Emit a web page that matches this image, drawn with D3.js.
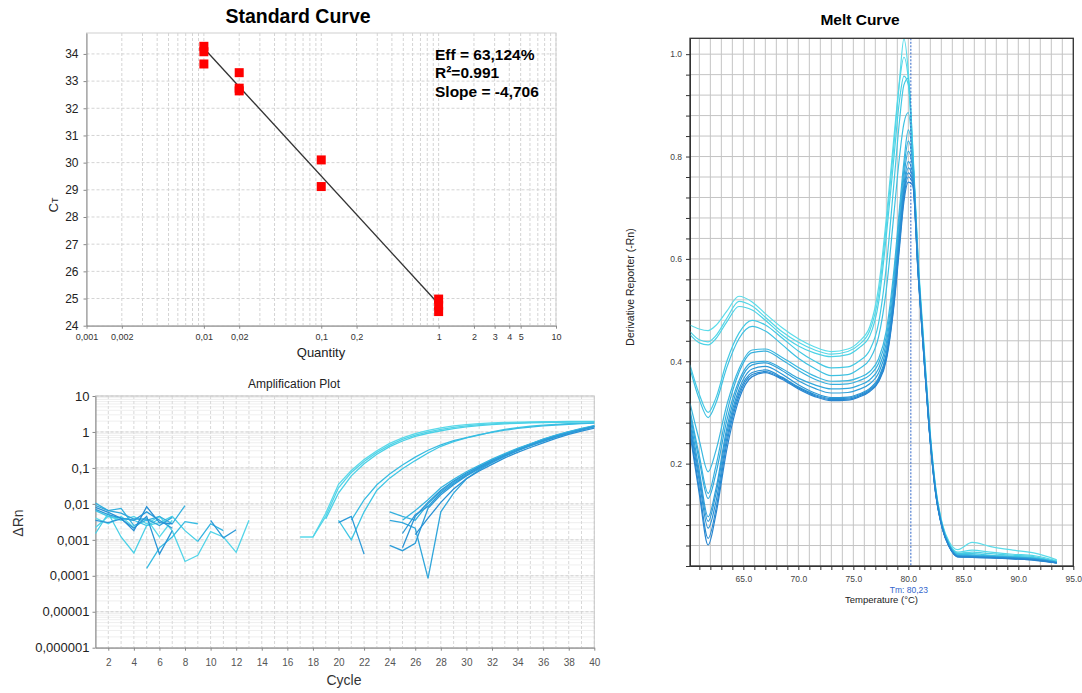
<!DOCTYPE html>
<html>
<head>
<meta charset="utf-8">
<script src="https://cdn.jsdelivr.net/npm/d3@7/dist/d3.min.js"></script>
<style>
  body { margin: 0; background: #fff; }
  svg { display: block; font-family: Arial, "Liberation Sans", sans-serif; }
</style>
</head>
<body>
<svg id="chart" width="1082" height="693"></svg>
<script>
var _ = null;

// ---------- Standard curve ----------
var stdQty = [0.01, 0.01, 0.01, 0.02, 0.02, 0.02, 0.1, 0.1, 1, 1, 1];
var stdCt = [34.28, 34.08, 33.63, 33.31, 32.74, 32.64, 30.10, 29.12, 24.98, 24.75, 24.52];
var fitQty = [0.01, 1];
var fitCt = [34.21, 24.80];
var stdXTicks = [0.001, 0.002, 0.01, 0.02, 0.1, 0.2, 1, 2, 3, 4, 5, 10];
var stdXLabels = ["0,001", "0,002", "0,01", "0,02", "0,1", "0,2", "1", "2", "3", "4", "5", "10"];
var stdYTicks = [24, 25, 26, 27, 28, 29, 30, 31, 32, 33, 34];
var stdStats = ["Eff = 63,124%", "R²=0.991", "Slope = -4,706"];

// ---------- Amplification plot ----------
var cycles = [1, 2, 3, 4, 5, 6, 7, 8, 9, 10, 11, 12, 13, 14, 15, 16, 17, 18, 19, 20,
              21, 22, 23, 24, 25, 26, 27, 28, 29, 30, 31, 32, 33, 34, 35, 36, 37, 38, 39, 40];
var ampXTicks = [2, 4, 6, 8, 10, 12, 14, 16, 18, 20, 22, 24, 26, 28, 30, 32, 34, 36, 38, 40];
var ampYTicks = [10, 1, 0.1, 0.01, 0.001, 0.0001, 0.00001, 0.000001];
var ampYLabels = ["10", "1", "0,1", "0,01", "0,001", "0,0001", "0,00001", "0,000001"];

var ampA1 = [0.004, 0.0028, 0.0045, 0.0022, 0.0038, 0.0012, 0.0035, _, _, _,
             _, _, _, _, _, _, 0.0012, 0.0012, 0.0055, 0.035,
             0.085, 0.17, 0.30, 0.48, 0.68, 0.90, 1.10, 1.30, 1.48, 1.60,
             1.70, 1.78, 1.84, 1.88, 1.91, 1.93, 1.95, 1.96, 1.97, 1.98];
var ampA2 = [0.0022, 0.0045, 0.0035, 0.0045, 0.0028, 0.0045, 0.0018, 0.00025, 0.00037, 0.0017,
             0.0012, 0.00045, 0.0035, _, _, _, _, 0.0012, 0.0045, 0.028,
             0.075, 0.15, 0.27, 0.43, 0.62, 0.82, 1.00, 1.18, 1.35, 1.48,
             1.60, 1.68, 1.75, 1.80, 1.84, 1.87, 1.90, 1.92, 1.94, 1.95];
var ampA3 = [0.0015, 0.0055, 0.0012, 0.00043, 0.0025, 0.003, 0.0045, 0.0018, 0.0009, _,
             _, _, _, _, _, _, _, _, 0.0038, 0.02,
             0.06, 0.13, 0.24, 0.39, 0.56, 0.75, 0.92, 1.08, 1.24, 1.38,
             1.50, 1.60, 1.68, 1.74, 1.79, 1.83, 1.86, 1.89, 1.91, 1.93];
var ampB1 = [0.0065, 0.0045, 0.004, 0.0035, 0.0025, 0.0038, _, _, _, _,
             _, _, _, _, _, _, _, _, _, 0.0035,
             0.001, 0.006, 0.024, 0.052, 0.095, 0.16, 0.26, 0.40, 0.54, 0.68,
             0.82, 1.00, 1.18, 1.32, 1.44, 1.54, 1.62, 1.69, 1.75, 1.80];
var ampB2 = [_, _, _, _, 0.00016, 0.0006, 0.0012, 0.0032, 0.0028, _,
             _, _, _, _, _, _, _, _, _, _,
             0.0035, 0.013, 0.034, 0.068, 0.12, 0.20, 0.31, 0.44, 0.57, 0.70,
             0.84, 0.98, 1.12, 1.25, 1.37, 1.47, 1.56, 1.64, 1.70, 1.76];
var ampC1 = [0.0105, 0.0065, 0.0075, 0.0025, 0.0035, 0.0045, 0.0028, 0.009, _, _,
             _, _, _, _, _, _, _, _, _, _,
             _, _, _, 0.006, 0.0045, 0.0035, 0.01, 0.022, 0.04, 0.068,
             0.105, 0.16, 0.235, 0.33, 0.45, 0.60, 0.78, 0.98, 1.20, 1.45];
var ampC2 = [0.009, 0.0065, 0.0055, 0.0038, 0.0038, 0.0025, 0.0042, _, _, _,
             _, _, _, _, _, _, _, _, _, _,
             _, _, _, 0.0035, 0.003, 0.0021, 0.000085, 0.006, 0.02, 0.05,
             0.088, 0.14, 0.21, 0.30, 0.41, 0.55, 0.72, 0.92, 1.14, 1.38];
var ampC3 = [0.007, 0.005, 0.004, 0.0035, 0.006, 0.0035, 0.0021, _, _, _,
             _, _, _, _, _, _, _, _, _, _,
             _, _, _, 0.0007, 0.0005, 0.0008, 0.0075, 0.018, 0.034, 0.06,
             0.095, 0.145, 0.215, 0.305, 0.42, 0.56, 0.73, 0.93, 1.15, 1.40];
var ampC4 = [0.0035, 0.003, 0.0038, 0.0021, 0.0045, 0.0004, 0.0018, _, _, _,
             _, _, _, _, _, _, _, _, _, _,
             _, _, _, _, 0.0006, 0.0045, 0.011, 0.024, 0.043, 0.072,
             0.11, 0.165, 0.24, 0.34, 0.46, 0.62, 0.80, 1.00, 1.22, 1.48];
var ampC5 = [0.008, 0.0058, 0.004, 0.0018, 0.0083, 0.003, 0.0028, _, _, _,
             _, _, _, _, _, _, _, _, _, _,
             _, _, _, _, _, 0.0014, 0.004, 0.011, 0.026, 0.05,
             0.082, 0.125, 0.19, 0.27, 0.37, 0.50, 0.66, 0.85, 1.05, 1.28];
var ampC6 = [_, _, _, _, _, _, _, _, 0.0009, 0.0028,
             0.0018, _, _, _, _, _, _, _, _, _,
             _, _, _, _, 0.0035, 0.0065, 0.013, 0.028, 0.048, 0.078,
             0.118, 0.175, 0.25, 0.35, 0.47, 0.63, 0.82, 1.02, 1.25, 1.50];
var ampC7 = [_, _, _, _, _, _, _, _, _, 0.0035,
             0.00114, 0.0019, _, _, _, _, _, _, _, 0.003,
             0.0045, 0.0004, _, _, 0.0015, 0.005, 0.0085, 0.02, 0.037, 0.063,
             0.10, 0.15, 0.22, 0.31, 0.43, 0.58, 0.75, 0.95, 1.17, 1.42];
var ampSeries = [ampA1, ampA2, ampA3, ampB1, ampB2, ampC1, ampC2, ampC3, ampC4, ampC5, ampC6, ampC7];
var ampColors = ["#5ad9ea", "#52d4e8", "#4ad0e6", "#3fc6e4", "#38bce2", "#34b0de",
                 "#30a6db", "#2c9cd8", "#2a94d5", "#2890d4", "#35b4e0", "#2c9ad8"];

// ---------- Melt curve ----------
var meltTemps = [60.15, 61, 61.8, 62.5, 63.5, 64.6, 65.8, 67, 68.5, 70, 71.5, 73, 74.5, 75.5, 76.5, 77.3, 78,
                 78.7, 79.2, 79.6, 80, 80.4, 80.9, 81.4, 81.9, 82.5, 83.1, 83.7, 84.5, 85.8, 87.5, 89.5, 91.5, 93.5];
var meltT1 = [0.471, 0.463, 0.460, 0.470, 0.498, 0.527, 0.516, 0.493, 0.466, 0.444, 0.428, 0.419, 0.424, 0.438, 0.468, 0.545, 0.680,
              0.840, 0.950, 1.030, 0.965, 0.820, 0.600, 0.440, 0.285, 0.152, 0.082, 0.048, 0.032, 0.046, 0.038, 0.031, 0.025, 0.012];
var meltT2 = [0.458, 0.442, 0.438, 0.450, 0.484, 0.517, 0.508, 0.486, 0.458, 0.437, 0.422, 0.414, 0.419, 0.432, 0.460, 0.530, 0.665,
              0.825, 0.945, 0.994, 0.950, 0.805, 0.592, 0.432, 0.280, 0.150, 0.080, 0.045, 0.027, 0.031, 0.027, 0.023, 0.020, 0.010];
var meltT3 = [0.452, 0.436, 0.432, 0.444, 0.477, 0.507, 0.500, 0.480, 0.452, 0.430, 0.416, 0.409, 0.413, 0.426, 0.450, 0.515, 0.645,
              0.800, 0.910, 0.957, 0.940, 0.800, 0.588, 0.430, 0.278, 0.148, 0.078, 0.043, 0.025, 0.027, 0.024, 0.021, 0.018, 0.009];
var meltM1 = [0.393, 0.335, 0.300, 0.328, 0.400, 0.455, 0.480, 0.471, 0.446, 0.420, 0.400, 0.387, 0.389, 0.400, 0.422, 0.475, 0.585,
              0.750, 0.870, 0.940, 0.953, 0.815, 0.590, 0.428, 0.276, 0.147, 0.078, 0.043, 0.024, 0.024, 0.021, 0.019, 0.016, 0.008];
var meltM2 = [0.386, 0.325, 0.290, 0.318, 0.388, 0.444, 0.468, 0.459, 0.433, 0.406, 0.386, 0.372, 0.374, 0.385, 0.404, 0.448, 0.540,
              0.690, 0.800, 0.865, 0.886, 0.800, 0.585, 0.425, 0.274, 0.146, 0.077, 0.042, 0.023, 0.022, 0.020, 0.018, 0.015, 0.008];
var meltL1 = [0.318, 0.245, 0.184, 0.225, 0.315, 0.385, 0.422, 0.424, 0.408, 0.388, 0.371, 0.361, 0.362, 0.368, 0.380, 0.405, 0.460,
              0.580, 0.700, 0.790, 0.852, 0.795, 0.583, 0.424, 0.273, 0.145, 0.076, 0.042, 0.022, 0.021, 0.019, 0.017, 0.015, 0.007];
var meltL2 = [0.305, 0.215, 0.142, 0.195, 0.300, 0.378, 0.417, 0.420, 0.403, 0.382, 0.365, 0.355, 0.356, 0.362, 0.373, 0.396, 0.448,
              0.565, 0.685, 0.775, 0.830, 0.785, 0.580, 0.422, 0.272, 0.144, 0.075, 0.041, 0.021, 0.020, 0.019, 0.017, 0.014, 0.007];
var meltL3 = [0.298, 0.205, 0.132, 0.180, 0.285, 0.362, 0.398, 0.400, 0.386, 0.367, 0.354, 0.346, 0.347, 0.353, 0.364, 0.386, 0.436,
              0.550, 0.668, 0.760, 0.810, 0.775, 0.578, 0.420, 0.271, 0.143, 0.075, 0.040, 0.020, 0.019, 0.018, 0.016, 0.014, 0.007];
var meltL4 = [0.290, 0.185, 0.096, 0.150, 0.270, 0.355, 0.393, 0.397, 0.382, 0.362, 0.347, 0.338, 0.339, 0.345, 0.356, 0.377, 0.425,
              0.538, 0.655, 0.745, 0.790, 0.765, 0.575, 0.418, 0.270, 0.142, 0.074, 0.040, 0.020, 0.019, 0.018, 0.016, 0.013, 0.006];
var meltL5 = [0.280, 0.175, 0.087, 0.140, 0.260, 0.345, 0.385, 0.390, 0.375, 0.354, 0.338, 0.329, 0.330, 0.336, 0.347, 0.368, 0.415,
              0.528, 0.645, 0.735, 0.778, 0.758, 0.572, 0.416, 0.269, 0.141, 0.074, 0.039, 0.019, 0.018, 0.017, 0.015, 0.013, 0.006];
var meltL6 = [0.272, 0.165, 0.074, 0.125, 0.250, 0.338, 0.378, 0.383, 0.369, 0.350, 0.335, 0.327, 0.328, 0.334, 0.345, 0.365, 0.410,
              0.520, 0.638, 0.728, 0.768, 0.752, 0.570, 0.415, 0.268, 0.140, 0.073, 0.039, 0.019, 0.018, 0.017, 0.015, 0.012, 0.006];
var meltL7 = [0.265, 0.150, 0.054, 0.110, 0.240, 0.332, 0.374, 0.380, 0.367, 0.348, 0.333, 0.325, 0.326, 0.332, 0.343, 0.362, 0.406,
              0.515, 0.630, 0.720, 0.760, 0.748, 0.568, 0.414, 0.267, 0.140, 0.073, 0.038, 0.018, 0.017, 0.016, 0.014, 0.012, 0.006];
var meltL8 = [0.258, 0.140, 0.041, 0.100, 0.228, 0.325, 0.370, 0.378, 0.365, 0.346, 0.331, 0.323, 0.324, 0.330, 0.341, 0.360, 0.402,
              0.510, 0.622, 0.712, 0.750, 0.744, 0.566, 0.413, 0.266, 0.139, 0.072, 0.038, 0.018, 0.017, 0.016, 0.014, 0.011, 0.006];
var meltSeries = [meltT1, meltT2, meltT3, meltM1, meltM2, meltL1, meltL2, meltL3, meltL4, meltL5, meltL6, meltL7, meltL8];
var meltColors = ["#5cdcea", "#54d7e8", "#4cd2e6", "#43c9e4", "#3dc1e2", "#3ab8e0", "#36b0de",
                  "#32a8dc", "#2f9fd9", "#2c98d6", "#2a92d4", "#288cd2", "#2886d0"];
var meltXTicks = [65, 70, 75, 80, 85, 90, 95];
var meltYTicks = [0.2, 0.4, 0.6, 0.8, 1.0];
var meltTm = 80.23;

var svg = d3.select("#chart");

function styleAxis(g, color, size, textColor) {
    g.attr("font-family", null).attr("font-size", size);
    g.select(".domain").attr("stroke", color);
    g.selectAll(".tick line").attr("stroke", color);
    g.selectAll(".tick text").attr("fill", textColor);
}

function drawStandard() {
    var x = d3.scaleLog().domain([0.001, 10]).range([86.5, 556]);
    var y = d3.scaleLinear().domain([24, 34.77]).range([325.7, 33]);
    var g = svg.append("g");

    g.selectAll(".vgrid").data(x.ticks()).enter().append("line")
        .attr("x1", function(d) { return x(d); }).attr("x2", function(d) { return x(d); })
        .attr("y1", y(34.77)).attr("y2", y(24))
        .attr("stroke", "#d4d4d4").attr("stroke-dasharray", "3,2");
    g.selectAll(".hgrid").data(stdYTicks).enter().append("line")
        .attr("x1", x(0.001)).attr("x2", x(10))
        .attr("y1", function(d) { return y(d); }).attr("y2", function(d) { return y(d); })
        .attr("stroke", "#d4d4d4").attr("stroke-dasharray", "3,2");
    g.append("rect").attr("x", x(0.001)).attr("y", y(34.77))
        .attr("width", x(10) - x(0.001)).attr("height", y(24) - y(34.77))
        .attr("fill", "none").attr("stroke", "#cfcfcf");

    var xa = g.append("g").attr("transform", "translate(0," + y(24) + ")")
        .call(d3.axisBottom(x).tickValues(stdXTicks)
            .tickFormat(function(d, i) { return stdXLabels[i]; }).tickSize(3).tickSizeOuter(0));
    styleAxis(xa, "#8a8a8a", 9, "#333");
    xa.selectAll(".tick text").attr("dy", "0.9em");
    var ya = g.append("g").attr("transform", "translate(" + x(0.001) + ",0)")
        .call(d3.axisLeft(y).tickValues(stdYTicks).tickSize(3).tickSizeOuter(0));
    styleAxis(ya, "#8a8a8a", 12, "#222");
    ya.selectAll(".tick text").attr("x", -8);

    g.append("line")
        .attr("x1", x(fitQty[0])).attr("y1", y(fitCt[0]))
        .attr("x2", x(fitQty[1])).attr("y2", y(fitCt[1]))
        .attr("stroke", "#333").attr("stroke-width", 1.3);

    g.selectAll(".pt").data(stdQty).enter().append("rect")
        .attr("x", function(d) { return x(d) - 4.5; })
        .attr("y", function(d, i) { return y(stdCt[i]) - 4.5; })
        .attr("width", 9).attr("height", 9).attr("fill", "#ff0000");

    g.selectAll(".stat").data(stdStats).enter().append("text")
        .attr("x", 435).attr("y", function(d, i) { return 60 + i * 18.4; })
        .attr("font-size", 15.5).attr("font-weight", "bold").attr("fill", "#000")
        .text(function(d) { return d; });

    g.append("text").attr("x", 298).attr("y", 23).attr("text-anchor", "middle")
        .attr("font-size", 19.5).attr("font-weight", "bold").text("Standard Curve");
    g.append("text").attr("x", 321).attr("y", 357).attr("text-anchor", "middle")
        .attr("font-size", 13).attr("fill", "#222").text("Quantity");
    var ct = g.append("text").attr("transform", "translate(58,205) rotate(-90)")
        .attr("text-anchor", "middle").attr("font-size", 13).attr("fill", "#222");
    ct.append("tspan").text("C");
    ct.append("tspan").attr("font-size", 9).text("T");
}

function drawAmplification() {
    var x = d3.scaleLinear().domain([1, 40]).range([95.5, 594.3]);
    var y = d3.scaleLog().domain([0.000001, 10]).range([647.7, 396]);
    var g = svg.append("g");

    g.selectAll(".hminor").data(y.ticks()).enter().append("line")
        .attr("x1", x(1)).attr("x2", x(40))
        .attr("y1", function(d) { return y(d); }).attr("y2", function(d) { return y(d); })
        .attr("stroke", "#dedede").attr("stroke-dasharray", "1,1");
    g.selectAll(".vgrid").data(cycles).enter().append("line")
        .attr("x1", function(d) { return x(d); }).attr("x2", function(d) { return x(d); })
        .attr("y1", y(10)).attr("y2", y(0.000001))
        .attr("stroke", "#d8d8d8").attr("stroke-dasharray", "3,2");
    g.selectAll(".hmajor").data(ampYTicks).enter().append("line")
        .attr("x1", x(1)).attr("x2", x(40))
        .attr("y1", function(d) { return y(d); }).attr("y2", function(d) { return y(d); })
        .attr("stroke", "#d0d0d0").attr("stroke-dasharray", "3,2");
    g.append("rect").attr("x", x(1)).attr("y", y(10))
        .attr("width", x(40) - x(1)).attr("height", y(0.000001) - y(10))
        .attr("fill", "none").attr("stroke", "#c8c8c8");

    var xa = g.append("g").attr("transform", "translate(0," + y(0.000001) + ")")
        .call(d3.axisBottom(x).tickValues(ampXTicks).tickSize(3).tickSizeOuter(0));
    styleAxis(xa, "#888", 10, "#555");
    xa.selectAll(".tick text").attr("dy", "1.2em");
    var ya = g.append("g").attr("transform", "translate(" + x(1) + ",0)")
        .call(d3.axisLeft(y).tickValues(ampYTicks)
            .tickFormat(function(d, i) { return ampYLabels[i]; }).tickSize(3).tickSizeOuter(0));
    styleAxis(ya, "#888", 13, "#222");
    ya.selectAll(".tick text").attr("x", -6);

    var line = d3.line()
        .defined(function(d) { return d[1] != null; })
        .x(function(d) { return x(d[0]); })
        .y(function(d) { return y(d[1]); });
    g.selectAll(".amp").data(ampSeries).enter().append("path")
        .attr("d", function(s) { return line(cycles.map(function(c, i) { return [c, s[i]]; })); })
        .attr("fill", "none").attr("stroke-width", 1.3)
        .attr("stroke", function(d, i) { return ampColors[i]; });

    g.append("text").attr("x", 294).attr("y", 388).attr("text-anchor", "middle")
        .attr("font-size", 12).attr("fill", "#222").text("Amplification Plot");
    g.append("text").attr("x", 344).attr("y", 685).attr("text-anchor", "middle")
        .attr("font-size", 14).attr("fill", "#333").text("Cycle");
    g.append("text").attr("transform", "translate(23,523) rotate(-90)")
        .attr("text-anchor", "middle").attr("font-size", 14).attr("fill", "#333").text("ΔRn");
}

function drawMelt() {
    var x = d3.scaleLinear().domain([60.15, 95]).range([690, 1073.3]);
    var y = d3.scaleLinear().domain([0, 1.031]).range([566, 38.3]);
    var g = svg.append("g");
    var yGrid = d3.range(0, 26).map(function(i) { return i * 0.04; });
    var xGrid = d3.range(61, 96);

    g.selectAll(".vgrid").data(xGrid).enter().append("line")
        .attr("x1", function(d) { return x(d); }).attr("x2", function(d) { return x(d); })
        .attr("y1", y(1.031)).attr("y2", y(0)).attr("stroke", "#c4c4c4");
    g.selectAll(".hgrid").data(yGrid).enter().append("line")
        .attr("x1", x(60.15)).attr("x2", x(95))
        .attr("y1", function(d) { return y(d); }).attr("y2", function(d) { return y(d); })
        .attr("stroke", "#c4c4c4");

    var xa = g.append("g").attr("transform", "translate(0," + y(0) + ")")
        .call(d3.axisBottom(x).tickValues(xGrid)
            .tickFormat(function(d) { return meltXTicks.indexOf(d) >= 0 ? d3.format(".1f")(d) : ""; })
            .tickSize(4).tickSizeOuter(0));
    styleAxis(xa, "#333", 8.5, "#444");
    xa.selectAll(".tick text").attr("dy", "1.1em");
    var ya = g.append("g").attr("transform", "translate(" + x(60.15) + ",0)")
        .call(d3.axisLeft(y).tickValues(yGrid)
            .tickFormat(function(d, i) { return (i % 5 === 0 && i > 0) ? d3.format(".1f")(meltYTicks[i / 5 - 1]) : ""; })
            .tickSize(4).tickSizeOuter(0));
    styleAxis(ya, "#333", 8.5, "#444");
    ya.selectAll(".tick text").attr("x", -8);

    g.append("defs").append("clipPath").attr("id", "meltClip").append("rect")
        .attr("x", x(60.15)).attr("y", y(1.031))
        .attr("width", x(95) - x(60.15)).attr("height", y(0) - y(1.031));

    var line = d3.line().curve(d3.curveMonotoneX)
        .x(function(d) { return x(d[0]); })
        .y(function(d) { return y(d[1]); });
    g.append("g").attr("clip-path", "url(#meltClip)")
        .selectAll(".melt").data(meltSeries).enter().append("path")
        .attr("d", function(s) { return line(meltTemps.map(function(t, i) { return [t, s[i]]; })); })
        .attr("fill", "none").attr("stroke-width", 1.2)
        .attr("stroke", function(d, i) { return meltColors[i]; });

    g.append("line").attr("x1", x(meltTm)).attr("x2", x(meltTm))
        .attr("y1", y(1.031)).attr("y2", y(0))
        .attr("stroke", "#2f66c8").attr("stroke-width", 1).attr("stroke-dasharray", "2,1.5");

    g.append("rect").attr("x", x(60.15)).attr("y", y(1.031))
        .attr("width", x(95) - x(60.15)).attr("height", y(0) - y(1.031))
        .attr("fill", "none").attr("stroke", "#333").attr("stroke-width", 1.3);

    g.append("text").attr("x", 860).attr("y", 25).attr("text-anchor", "middle")
        .attr("font-size", 15.5).attr("font-weight", "bold").text("Melt Curve");
    g.append("text").attr("x", x(meltTm) - 2).attr("y", 593).attr("text-anchor", "middle")
        .attr("font-size", 8.5).attr("fill", "#3366cc").text("Tm: 80,23");
    g.append("text").attr("x", 845).attr("y", 603)
        .attr("font-size", 9.5).attr("fill", "#222").text("Temperature (°C)");
    g.append("text").attr("transform", "translate(634,287) rotate(-90)")
        .attr("text-anchor", "middle").attr("font-size", 10.5).attr("fill", "#222")
        .text("Derivative Reporter (-Rn)");
}

drawStandard();
drawAmplification();
drawMelt();
</script>
</body>
</html>
